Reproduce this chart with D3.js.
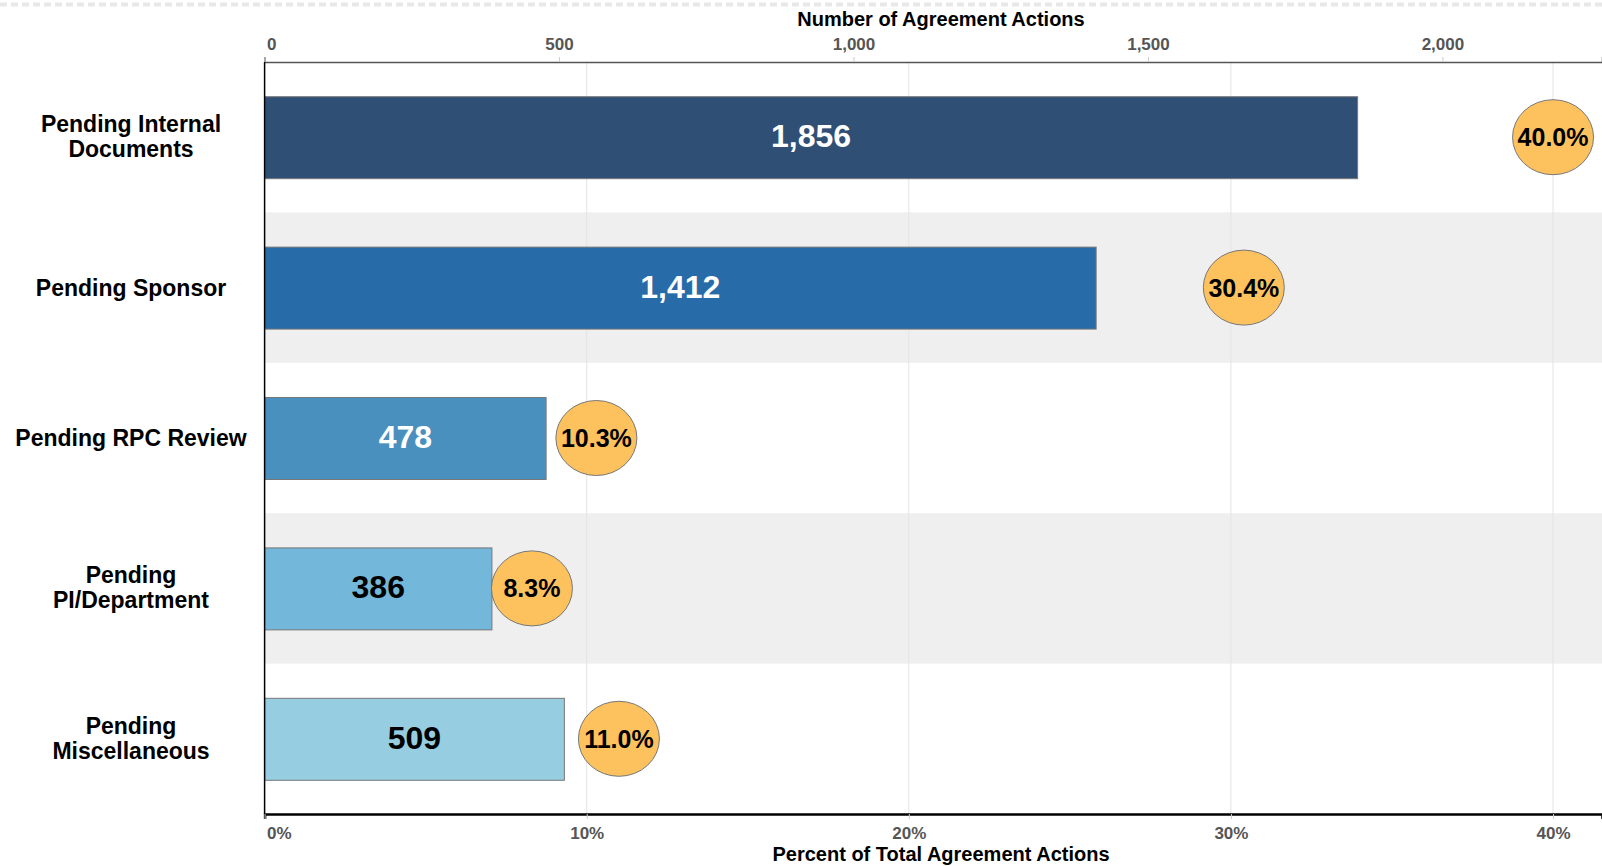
<!DOCTYPE html>
<html>
<head>
<meta charset="utf-8">
<script src="https://cdn.jsdelivr.net/npm/d3@7"></script>
<style>
  body { margin: 0; background: #fff; }
  svg { display: block; font-family: "Liberation Sans", Arial, sans-serif; }
</style>
</head>
<body>
<script>
// values
var categories = ["Pending Internal Documents", "Pending Sponsor", "Pending RPC Review", "Pending PI/Department", "Pending Miscellaneous"];
var labelLines = [["Pending Internal", "Documents"], ["Pending Sponsor"], ["Pending RPC Review"], ["Pending", "PI/Department"], ["Pending", "Miscellaneous"]];
var counts = [1856, 1412, 478, 386, 509];
var percents = [40.0, 30.4, 10.3, 8.3, 11.0];
var barColors = ["#2f4f75", "#276ba8", "#4a90bf", "#73b8da", "#96cde1"];
var labelColors = ["#fff", "#fff", "#fff", "#000", "#000"];
var countTicks = [0, 500, 1000, 1500, 2000];
var pctTicks = [0, 10, 20, 30, 40];

var W = 1602, H = 866;
// note: "top" is taken by window.top, so plot edges get their own names
var plotL = 264.6, plotR = 1602, plotT = 62, plotB = 814;

var svg = d3.select("body").append("svg")
    .attr("width", W)
    .attr("height", H);

var data = categories.map(function(c, i) {
    return {cat: c, lines: labelLines[i], count: counts[i], pct: percents[i], color: barColors[i], lcolor: labelColors[i]};
});

var xCount = d3.scaleLinear().domain([0, 2271]).range([plotL, plotR]);
var xPct = d3.scaleLinear().domain([0, 41.52]).range([plotL, plotR]);
var y = d3.scaleBand().domain(categories).range([plotT, plotB]);

// dotted line on top
svg.append("line")
    .attr("x1", 0).attr("x2", W).attr("y1", 4.5).attr("y2", 4.5)
    .attr("stroke", "#e8e8e8").attr("stroke-width", 4)
    .attr("stroke-dasharray", "7,4");

// alternating row bands
svg.append("g")
    .selectAll("rect")
    .data(data.filter(function(d, i) { return i % 2 == 1; }))
    .enter()
    .append("rect")
    .attr("x", plotL)
    .attr("y", function(d) { return y(d.cat); })
    .attr("width", plotR - plotL)
    .attr("height", y.bandwidth())
    .attr("fill", "#efefef");

// gridlines on the percent ticks
svg.append("g")
    .selectAll("line")
    .data(pctTicks.slice(1))
    .enter()
    .append("line")
    .attr("x1", function(d) { return xPct(d); })
    .attr("x2", function(d) { return xPct(d); })
    .attr("y1", plotT).attr("y2", plotB)
    .attr("stroke", "#e4e4e4").attr("stroke-width", 1);

var barH = y.bandwidth() * 0.545;

svg.append("g")
    .selectAll("rect")
    .data(data)
    .enter()
    .append("rect")
    .attr("x", xCount(0))
    .attr("y", function(d) { return y(d.cat) + y.bandwidth() / 2 - barH / 2 + 0.5; })
    .attr("width", function(d) { return xCount(d.count) - xCount(0); })
    .attr("height", barH)
    .attr("fill", function(d) { return d.color; })
    .attr("stroke", "#777")
    .attr("stroke-width", 1);

// count labels inside bars
svg.append("g")
    .selectAll("text")
    .data(data)
    .enter()
    .append("text")
    .attr("x", function(d) { return (xCount(0) + xCount(d.count)) / 2; })
    .attr("y", function(d) { return y(d.cat) + y.bandwidth() / 2 + 10; })
    .attr("text-anchor", "middle")
    .style("font-size", "32px")
    .style("font-weight", "bold")
    .attr("fill", function(d) { return d.lcolor; })
    .text(function(d) { return d3.format(",")(d.count); });

// percent bubbles
var bubbles = svg.append("g")
    .selectAll("g")
    .data(data)
    .enter()
    .append("g")
    .attr("transform", function(d) { return "translate(" + xPct(d.pct) + "," + (y(d.cat) + y.bandwidth() / 2) + ")"; });
bubbles.append("ellipse")
    .attr("rx", 40.5).attr("ry", 37.5)
    .attr("fill", "#fdc25e")
    .attr("stroke", "#777").attr("stroke-width", 1);
bubbles.append("text")
    .attr("text-anchor", "middle")
    .attr("y", 9)
    .style("font-size", "25px")
    .style("font-weight", "bold")
    .attr("fill", "#000")
    .text(function(d) { return d.pct.toFixed(1) + "%"; });

// category labels
var cats = svg.append("g")
    .selectAll("text")
    .data(data)
    .enter()
    .append("text")
    .attr("text-anchor", "middle")
    .style("font-size", "23px")
    .style("font-weight", "bold")
    .attr("fill", "#000")
    .attr("transform", function(d) { return "translate(131," + (y(d.cat) + y.bandwidth() / 2) + ")"; });
cats.selectAll("tspan")
    .data(function(d) { return d.lines.map(function(l, j) { return {t: l, j: j, n: d.lines.length}; }); })
    .enter()
    .append("tspan")
    .attr("x", 0)
    .attr("y", function(l) { return l.n == 1 ? 8 : -5 + l.j * 25; })
    .text(function(l) { return l.t; });

// top count axis
var topAxis = svg.append("g")
    .attr("transform", "translate(0," + plotT + ")")
    .call(d3.axisTop(xCount).tickValues(countTicks).tickFormat(d3.format(",")).tickSize(5).tickPadding(7));
topAxis.attr("font-family", null);
topAxis.select(".domain").attr("stroke", "#555").attr("stroke-width", 1.5);
topAxis.selectAll(".tick line").attr("stroke", "#ccc");
topAxis.selectAll(".tick text")
    .style("font-size", "17px").style("font-weight", "bold").attr("fill", "#555")
    .attr("text-anchor", function(d) { return d == 0 ? "start" : "middle"; })
    .attr("dx", function(d) { return d == 0 ? 2 : 0; });

svg.append("text")
    .attr("x", 941).attr("y", 26)
    .attr("text-anchor", "middle")
    .style("font-size", "20px").style("font-weight", "bold")
    .text("Number of Agreement Actions");

// bottom percent axis
var botAxis = svg.append("g")
    .attr("transform", "translate(0," + plotB + ")")
    .call(d3.axisBottom(xPct).tickValues(pctTicks).tickFormat(function(d) { return d + "%"; }).tickSize(5).tickPadding(8));
botAxis.attr("font-family", null);
botAxis.select(".domain").attr("stroke", "#000").attr("stroke-width", 2.5);
botAxis.selectAll(".tick line").attr("stroke", "#ccc");
botAxis.selectAll(".tick text")
    .style("font-size", "17px").style("font-weight", "bold").attr("fill", "#555")
    .attr("text-anchor", function(d) { return d == 0 ? "start" : "middle"; })
    .attr("dx", function(d) { return d == 0 ? 2 : 0; });

svg.append("text")
    .attr("x", 941).attr("y", 861)
    .attr("text-anchor", "middle")
    .style("font-size", "20px").style("font-weight", "bold")
    .text("Percent of Total Agreement Actions");

// left axis line
svg.append("line")
    .attr("x1", plotL).attr("x2", plotL).attr("y1", plotT).attr("y2", plotB)
    .attr("stroke", "#000").attr("stroke-width", 1.5);
</script>
</body>
</html>
